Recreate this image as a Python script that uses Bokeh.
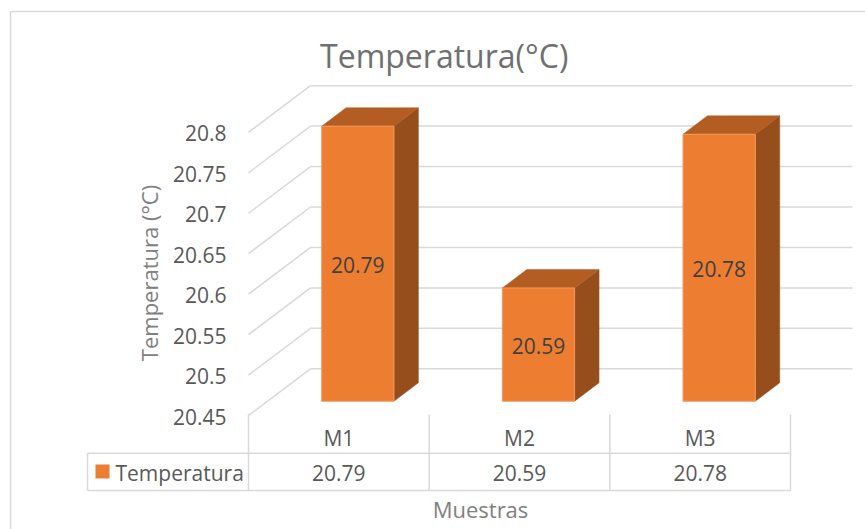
from bokeh.plotting import figure
from bokeh.models import Range1d, ColumnDataSource
from bokeh.embed import file_html
from bokeh.resources import INLINE
from bokeh.core.properties import value

# ---- data ----
categories = ["M1", "M2", "M3"]
temperatures = [20.79, 20.59, 20.78]
series_name = "Temperatura"
tick_values = [20.45, 20.5, 20.55, 20.6, 20.65, 20.7, 20.75, 20.8]
tick_labels = ["20.45", "20.5", "20.55", "20.6", "20.65", "20.7", "20.75", "20.8"]
title_text = "Temperatura(°C)"
y_title = "Temperatura (°C)"
x_title = "Muestras"

# ---- layout of the 3-D box (pixels) ----
W, H = 865, 529
X0 = 248            # front-left corner of the floor
CAT_W = 180.67      # width of one category on the floor front edge
Y_BASE = 415        # front floor edge (axis minimum)
PX_PER_UNIT = 809   # vertical pixels per degree
DEPTH_X, DEPTH_Y = 62, 46.7
V_MIN = tick_values[0]

DU = DEPTH_X / CAT_W          # depth offset in category units
DV = DEPTH_Y / PX_PER_UNIT    # depth offset in value units
BAR_D0, BAR_D1 = 0.306, 0.70  # bar front/back planes (fraction of depth)
BAR_L, BAR_R = 0.30, 0.70     # bar extent inside its category


def ux(px):
    return (px - X0) / CAT_W


def vy(py):
    return V_MIN + (Y_BASE - py) / PX_PER_UNIT


FONT = value("Open Sans")
GRID = "#D9D9D9"
ORANGE = "#ED7D31"
ORANGE_TOP = "#B45D22"
ORANGE_SIDE = "#964E1C"

p = figure(width=W, height=H, output_backend="svg", toolbar_location=None,
           x_range=Range1d(ux(0), ux(W)), y_range=Range1d(vy(H), vy(0)),
           x_axis_location=None, y_axis_location=None, title=None,
           min_border=0, outline_line_color=None, background_fill_color="white")
p.grid.visible = False

# chart area border (left and top edges)
p.multi_line(xs=[[ux(10), ux(10)], [ux(10), ux(W)]],
             ys=[[vy(11), vy(H)], [vy(11), vy(11)]],
             line_color=GRID, line_width=1.5)

# side wall diagonals and back wall gridlines
n_cat = len(categories)
side_xs = [[0, DU] for _ in tick_values]
side_ys = [[t, t + DV] for t in tick_values]
back_xs = [[DU, n_cat + DU] for _ in tick_values]
back_ys = [[t + DV, t + DV] for t in tick_values]
p.multi_line(xs=side_xs + back_xs, ys=side_ys + back_ys,
             line_color=GRID, line_width=1.5)

# 3-D columns
front_x, front_y, top_x, top_y, side_x, side_y = [], [], [], [], [], []
for i, t in enumerate(temperatures):
    l, r = i + BAR_L, i + BAR_R
    a0u, a0v = BAR_D0 * DU, BAR_D0 * DV
    a1u, a1v = BAR_D1 * DU, BAR_D1 * DV
    front_x.append([l + a0u, r + a0u, r + a0u, l + a0u])
    front_y.append([V_MIN + a0v, V_MIN + a0v, t + a0v, t + a0v])
    top_x.append([l + a0u, r + a0u, r + a1u, l + a1u])
    top_y.append([t + a0v, t + a0v, t + a1v, t + a1v])
    side_x.append([r + a0u, r + a1u, r + a1u, r + a0u])
    side_y.append([V_MIN + a0v, V_MIN + a1v, t + a1v, t + a0v])

p.patches(xs=side_x, ys=side_y, fill_color=ORANGE_SIDE, line_color=ORANGE_SIDE, line_width=0.5)
p.patches(xs=top_x, ys=top_y, fill_color=ORANGE_TOP, line_color=ORANGE_TOP, line_width=0.5)
p.patches(xs=front_x, ys=front_y, fill_color=ORANGE, line_color="#F19A5E", line_width=1)


def label(x, y, text, size, color, align="center", angle=0.0, source=None):
    kw = dict(text_font=FONT, text_font_size=size, text_color=color,
              text_align=align, text_baseline="middle", angle=angle)
    if source is not None:
        return p.text(x="x", y="y", text="text", source=source, **kw)
    return p.text(x=[x], y=[y], text=[text], **kw)


# value labels centred on the front faces
lab = ColumnDataSource(dict(
    x=[i + 0.5 + BAR_D0 * DU for i in range(n_cat)],
    y=[(V_MIN + t) / 2 + BAR_D0 * DV - 1.5 / PX_PER_UNIT for t in temperatures],
    text=[f"{t:.2f}" for t in temperatures]))
label(None, None, None, "21px", "#404040", source=lab)

# value-axis tick labels
ticks = ColumnDataSource(dict(x=[ux(226)] * len(tick_values),
                              y=[t - 1 / PX_PER_UNIT for t in tick_values],
                              text=tick_labels))
label(None, None, None, "21px", "#595959", align="right", source=ticks)

# title and axis titles
label(ux(443.7), vy(55), title_text, "32px", "#707070")
label(ux(148.5), vy(272.5), y_title, "22px", "#808080", angle=1.5707963)
label(ux(480), vy(508.5), x_title, "22px", "#808080")

# data table below the plot
row_top, row_mid, row_bot = vy(414), vy(452.7), vy(490)
tx = [[i, i] for i in range(n_cat + 1)]
ty = [[row_top, row_bot] for _ in range(n_cat + 1)]
tx += [[ux(87), n_cat], [ux(87), n_cat], [ux(87), ux(87)]]
ty += [[row_mid, row_mid], [row_bot, row_bot], [row_mid, row_bot]]
p.multi_line(xs=tx, ys=ty, line_color=GRID, line_width=1.5)

cat_src = ColumnDataSource(dict(x=[i + 0.5 for i in range(n_cat)],
                                y=[vy(437.5)] * n_cat, text=categories))
label(None, None, None, "21px", "#595959", source=cat_src)
val_src = ColumnDataSource(dict(x=[i + 0.5 for i in range(n_cat)],
                                y=[vy(472.5)] * n_cat,
                                text=[f"{t:.2f}" for t in temperatures]))
label(None, None, None, "21px", "#595959", source=val_src)

# legend key inside the table
p.quad(left=[ux(95)], right=[ux(109)], top=[vy(464)], bottom=[vy(478)],
       fill_color=ORANGE, line_color=None)
label(ux(115), vy(472.5), series_name, "21px", "#595959", align="left")

open("out.html", "w").write(file_html(p, INLINE))
